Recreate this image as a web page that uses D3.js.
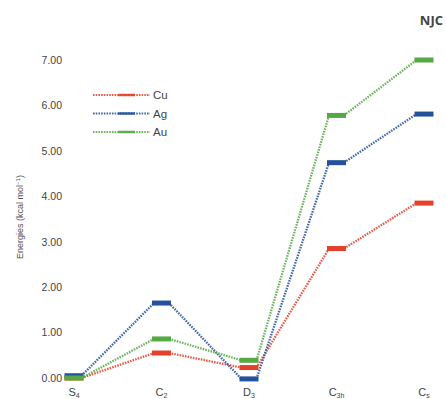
<!DOCTYPE html>
<html>
<head>
<meta charset="utf-8">
<script src="https://cdn.jsdelivr.net/npm/d3@7"></script>
<style>
  html, body { margin: 0; padding: 0; background: #fff; }
  svg { display: block; font-family: "Liberation Sans", "DejaVu Sans", sans-serif; }
</style>
</head>
<body>
<svg id="chart" width="446" height="399"></svg>
<script>
// Point groups (base letter + subscript)
const groupBase = ["S", "C", "D", "C", "C"];
const groupSub  = ["4", "2", "3", "3h", "s"];
const groups = groupBase.map((b, i) => b + groupSub[i]);

// Relative energies (kcal mol^-1) per metal
const metals = ["Cu", "Ag", "Au"];
const cuValues = [0.00, 0.55, 0.23, 2.85, 3.85];
const agValues = [0.05, 1.65, -0.02, 4.74, 5.81];
const auValues = [0.00, 0.86, 0.39, 5.78, 7.00];
const seriesValues = [cuValues, agValues, auValues];

const yTicks = [0, 1, 2, 3, 4, 5, 6, 7];
const colors = ["#e5402a", "#24519c", "#55a842"];

const svg = d3.select("#chart");

const x = d3.scalePoint().domain(groups).range([74, 424]);
const y = d3.scaleLinear().domain([0, 7]).range([378, 60]);

const barHalf = 9.5, barH = 5;

// y axis labels only (no axis line)
const yAxis = d3.axisLeft(y).tickValues(yTicks).tickSize(0).tickPadding(0)
  .tickFormat(d3.format(".2f"));
const ya = svg.append("g").attr("transform", "translate(62,0)").call(yAxis);
ya.select(".domain").remove();
ya.selectAll("text").attr("fill", "#444").style("font-size", "10.5px")
  .style("font-family", "'Liberation Sans', sans-serif");

// y axis title
svg.append("text")
  .attr("transform", "translate(23,217) rotate(-90)")
  .attr("text-anchor", "middle")
  .attr("fill", "#555")
  .style("font-size", "9px")
  .text("Energies (kcal mol")
  .append("tspan").attr("dy", -3).style("font-size", "6px").text("−1")
  .select(function() { return this.parentNode; })
  .append("tspan").attr("dy", 3).text(")");

// category labels with subscripts
const cat = svg.append("g");
groups.forEach((g, i) => {
  const t = cat.append("text")
    .attr("x", x(g)).attr("y", 396)
    .attr("text-anchor", "middle")
    .attr("fill", "#444")
    .style("font-size", "11px");
  t.append("tspan").text(groupBase[i]);
  t.append("tspan").attr("dy", 2).style("font-size", "7px").text(groupSub[i]);
});

// connecting dotted lines and level bars per metal
seriesValues.forEach((vals, s) => {
  const segs = d3.pairs(groups.map((g, i) => [x(g), y(vals[i])]));
  svg.append("g").selectAll("line").data(segs).join("line")
    .attr("x1", d => d[0][0] + barHalf - 2).attr("y1", d => d[0][1])
    .attr("x2", d => d[1][0] - barHalf + 2).attr("y2", d => d[1][1])
    .attr("stroke", colors[s]).attr("stroke-width", 2.3)
    .attr("stroke-dasharray", "1.6,1.1").attr("opacity", 0.85);
  svg.append("g").selectAll("rect").data(groups).join("rect")
    .attr("x", g => x(g) - barHalf)
    .attr("y", (g, i) => y(vals[i]) - barH / 2)
    .attr("width", barHalf * 2).attr("height", barH)
    .attr("fill", colors[s]);
});

// legend
const leg = svg.append("g");
metals.forEach((m, i) => {
  const ly = 95 + i * 18.5;
  leg.append("line").attr("x1", 93).attr("x2", 150).attr("y1", ly).attr("y2", ly)
    .attr("stroke", colors[i]).attr("stroke-width", 2)
    .attr("stroke-dasharray", "1.6,1.1").attr("opacity", 0.85);
  leg.append("rect").attr("x", 118).attr("y", ly - 1.25).attr("width", 17).attr("height", 2.5)
    .attr("fill", colors[i]).attr("opacity", 0.9);
  leg.append("text").attr("x", 153).attr("y", ly + 4)
    .attr("fill", "#444").style("font-size", "11.5px").text(m);
});

// journal mark
svg.append("text").attr("x", 443).attr("y", 25).attr("text-anchor", "end")
  .attr("fill", "#444").style("font-size", "13px").style("font-weight", "bold")
  .style("font-family", "'Open Sans', 'Liberation Sans', sans-serif")
  .text("NJC");
</script>
</body>
</html>
